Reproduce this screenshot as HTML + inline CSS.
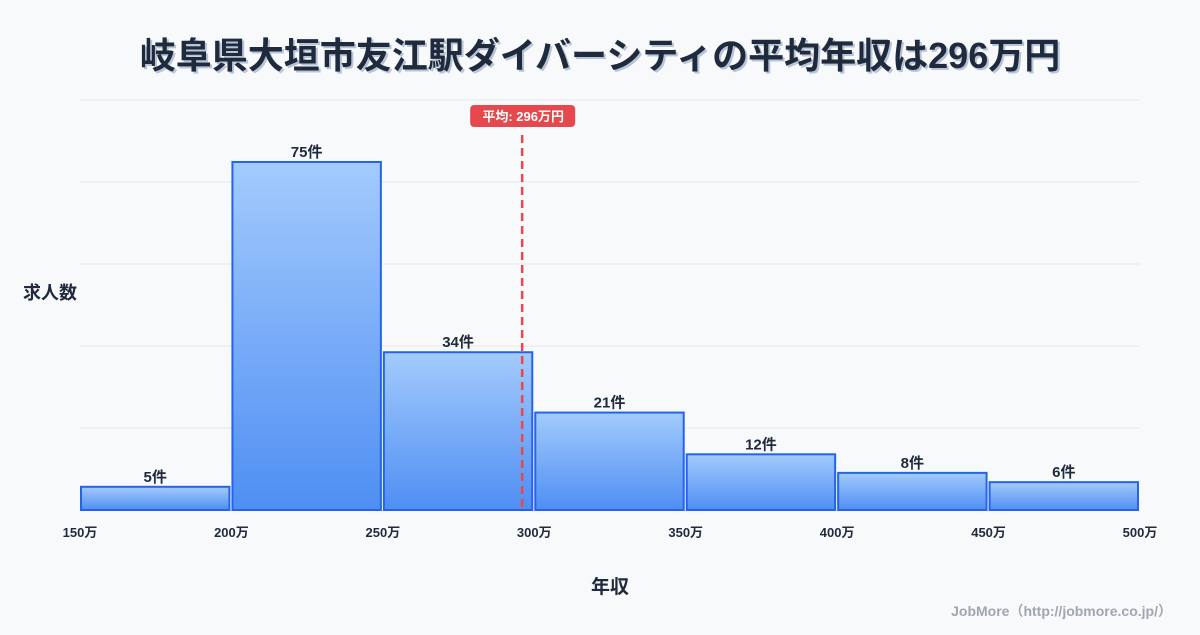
<!DOCTYPE html>
<html><head><meta charset="utf-8"><style>
body{margin:0;background:#f8f9fb;width:1200px;height:630px;overflow:hidden;font-family:"Liberation Sans","Noto Sans CJK JP",sans-serif;}
svg text{font-family:"Liberation Sans","Noto Sans CJK JP",sans-serif;}
</style></head><body>
<svg id="c" width="1200" height="630">
<defs><linearGradient id="g" x1="0" y1="0" x2="0" y2="1"><stop offset="0" stop-color="#a3cbfc"/><stop offset="1" stop-color="#4f8ef3"/></linearGradient></defs>
<text x="600" y="68" text-anchor="middle" font-size="36" font-weight="bold" fill="#b8c4d8" transform="translate(2,2)">岐阜県大垣市友江駅ダイバーシティの平均年収は296万円</text>
<text x="600" y="68" text-anchor="middle" font-size="36" font-weight="bold" fill="#1f2a3c">岐阜県大垣市友江駅ダイバーシティの平均年収は296万円</text>
<g id="grid"></g><g id="bars"></g><g id="xt"></g>
<text x="50" y="299" text-anchor="middle" font-size="18" font-weight="bold" fill="#1f2a3c">求人数</text>
<text x="610" y="593" text-anchor="middle" font-size="19" font-weight="bold" fill="#1f2a3c">年収</text>
<text x="1172" y="616" text-anchor="end" font-size="14" font-weight="bold" fill="#a0a6b0">JobMore（http://jobmore.co.jp/）</text>
</svg>
<script>
const binEdges=[150,200,250,300,350,400,450,500];
const counts=[5,75,34,21,12,8,6];
const meanValue=296;
const meanLabel="平均: 296万円";
const X0=80,X1=1140,YB=510,YT=100,XMIN=150,XMAX=500,YMAX=88.36;
const xs=v=>X0+(v-XMIN)/(XMAX-XMIN)*(X1-X0);
const ys=v=>YB-v/YMAX*(YB-YT);
const NS="http://www.w3.org/2000/svg";
function mk(t,a,p){const e=document.createElementNS(NS,t);for(const k in a)e.setAttribute(k,a[k]);p.appendChild(e);return e;}
const grid=document.getElementById('grid'),bars=document.getElementById('bars'),xt=document.getElementById('xt');
for(let i=0;i<=5;i++){const y=YB-i*(YB-YT)/5;
const l=mk('line',{x1:X0,x2:X1,y1:y,y2:y,stroke:'#e3e6eb','stroke-width':1},grid);

}
counts.forEach((c,i)=>{const x=xs(binEdges[i])+1,w=xs(binEdges[i+1])-xs(binEdges[i])-3,y=ys(c);
const r=mk('rect',{x:x,y:y,width:w,height:YB-y,fill:'url(#g)',stroke:'#2563eb','stroke-width':2},bars);


const t=mk('text',{x:x+w/2,y:y-5,'text-anchor':'middle','font-size':15,'font-weight':'bold',fill:'#1f2a3c'},bars);t.textContent=c+'件';

});
binEdges.forEach(v=>{const t=mk('text',{x:xs(v),y:537,'text-anchor':'middle','font-size':13,'font-weight':'bold',fill:'#1f2a3c'},xt);t.textContent=v+'万';

});
const mx=xs(meanValue);
const ml=mk('line',{x1:mx,x2:mx,y1:135,y2:YB,stroke:'#e5484d','stroke-width':2.5,'stroke-dasharray':'8,5'},bars);


const mb=mk('rect',{x:mx-52,y:105,width:105,height:22,rx:4,fill:'#e5484d'},bars);


const mt=mk('text',{x:mx+1,y:121,'text-anchor':'middle','font-size':13,'font-weight':'bold',fill:'#fff'},bars);mt.textContent=meanLabel;


</script>
</body></html>
